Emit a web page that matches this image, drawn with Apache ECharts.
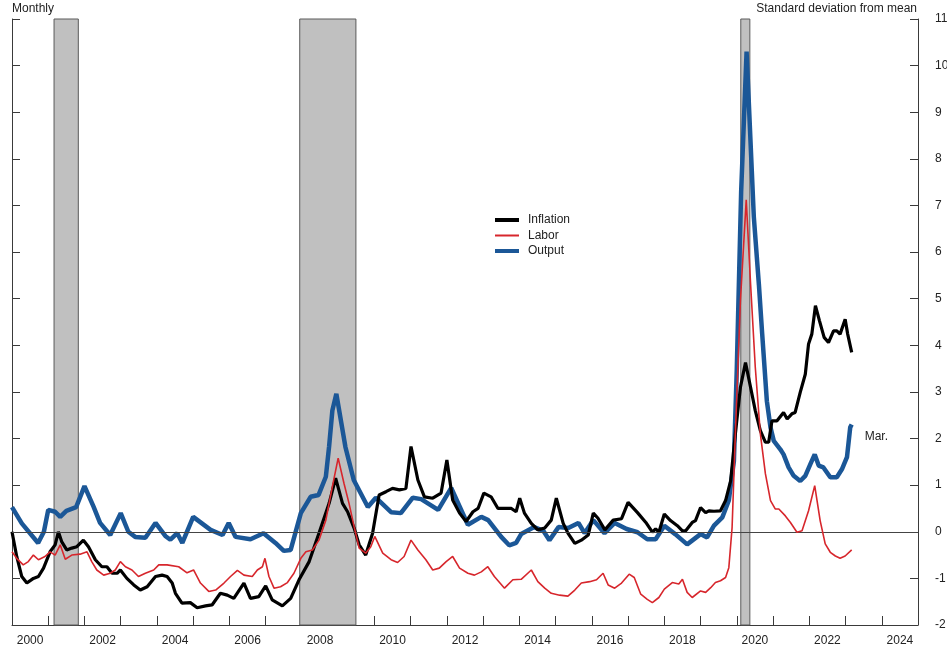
<!DOCTYPE html>
<html>
<head>
<meta charset="utf-8">
<title>Inflation, labor and output: standard deviation from mean</title>
<script src="https://cdn.jsdelivr.net/npm/echarts@6/dist/echarts.min.js"></script>
<style>
  html, body { margin: 0; padding: 0; background: #fff; }
  #chart { width: 947px; height: 652px; }
</style>
</head>
<body>
<div id="chart"></div>
<script>
// points are [decimal year, std dev from mean]; Jan = .00
const inflation = [
  [2000.00, 0.00], [2000.13, -0.53], [2000.27, -0.96], [2000.41, -1.10], [2000.59, -1.00],
  [2000.73, -0.96], [2000.87, -0.78], [2001.05, -0.43], [2001.19, -0.28], [2001.28, 0.00],
  [2001.37, -0.21], [2001.51, -0.39], [2001.65, -0.35], [2001.79, -0.32], [2001.97, -0.18],
  [2002.11, -0.32], [2002.30, -0.60], [2002.48, -0.75], [2002.62, -0.75], [2002.76, -0.89],
  [2002.90, -0.89], [2002.99, -0.82], [2003.17, -1.00], [2003.36, -1.14], [2003.54, -1.25],
  [2003.73, -1.18], [2003.96, -0.96], [2004.14, -0.93], [2004.28, -0.96], [2004.42, -1.10],
  [2004.51, -1.32], [2004.69, -1.53], [2004.92, -1.52], [2005.11, -1.63], [2005.34, -1.59],
  [2005.52, -1.57], [2005.75, -1.32], [2005.94, -1.36], [2006.12, -1.43], [2006.40, -1.10],
  [2006.58, -1.43], [2006.81, -1.39], [2007.00, -1.16], [2007.18, -1.46], [2007.46, -1.59],
  [2007.69, -1.43], [2007.92, -1.03], [2008.20, -0.64], [2008.47, -0.03], [2008.75, 0.61],
  [2008.93, 1.15], [2009.12, 0.61], [2009.26, 0.43], [2009.44, 0.08], [2009.58, -0.28],
  [2009.76, -0.50], [2009.95, -0.03], [2010.13, 0.79], [2010.32, 0.86], [2010.50, 0.93],
  [2010.69, 0.90], [2010.87, 0.93], [2011.01, 1.83], [2011.20, 1.11], [2011.38, 0.75],
  [2011.61, 0.72], [2011.84, 0.83], [2012.00, 1.54], [2012.16, 0.68], [2012.35, 0.40],
  [2012.53, 0.22], [2012.72, 0.43], [2012.86, 0.50], [2013.02, 0.83], [2013.22, 0.75],
  [2013.41, 0.50], [2013.59, 0.50], [2013.78, 0.50], [2013.91, 0.43], [2014.01, 0.72],
  [2014.14, 0.40], [2014.33, 0.18], [2014.51, 0.04], [2014.70, 0.08], [2014.88, 0.25],
  [2015.02, 0.72], [2015.21, 0.18], [2015.34, -0.03], [2015.53, -0.25], [2015.71, -0.18],
  [2015.90, -0.07], [2016.04, 0.40], [2016.17, 0.29], [2016.36, 0.04], [2016.59, 0.25],
  [2016.82, 0.28], [2017.00, 0.63], [2017.26, 0.41], [2017.49, 0.20], [2017.67, -0.01],
  [2017.76, 0.06], [2017.85, -0.01], [2018.00, 0.38], [2018.17, 0.24], [2018.36, 0.13],
  [2018.50, 0.02], [2018.59, 0.02], [2018.77, 0.20], [2018.86, 0.24], [2019.00, 0.52],
  [2019.14, 0.41], [2019.23, 0.45], [2019.37, 0.44], [2019.55, 0.45], [2019.69, 0.67],
  [2019.83, 1.09], [2019.96, 2.10], [2020.10, 3.10], [2020.24, 3.63], [2020.38, 3.10],
  [2020.51, 2.60], [2020.65, 2.17], [2020.79, 1.92], [2020.88, 1.92], [2020.97, 2.38],
  [2021.11, 2.38], [2021.29, 2.56], [2021.39, 2.42], [2021.52, 2.53], [2021.61, 2.56],
  [2021.75, 2.99], [2021.89, 3.38], [2021.98, 4.03], [2022.07, 4.24], [2022.17, 4.85],
  [2022.28, 4.53], [2022.41, 4.17], [2022.53, 4.06], [2022.67, 4.31], [2022.76, 4.31],
  [2022.85, 4.24], [2022.99, 4.56], [2023.06, 4.24], [2023.17, 3.85]
];

const labor = [
  [2000.00, -0.43], [2000.13, -0.57], [2000.31, -0.71], [2000.45, -0.64], [2000.59, -0.50],
  [2000.73, -0.60], [2000.91, -0.53], [2001.05, -0.43], [2001.19, -0.50], [2001.33, -0.28],
  [2001.47, -0.59], [2001.65, -0.50], [2001.88, -0.48], [2002.07, -0.43], [2002.20, -0.64],
  [2002.34, -0.82], [2002.53, -0.93], [2002.71, -0.89], [2002.85, -0.82], [2002.99, -0.64],
  [2003.13, -0.75], [2003.31, -0.82], [2003.49, -0.96], [2003.68, -0.89], [2003.91, -0.82],
  [2004.05, -0.71], [2004.28, -0.71], [2004.60, -0.75], [2004.83, -0.88], [2005.01, -0.82],
  [2005.20, -1.10], [2005.43, -1.28], [2005.62, -1.25], [2005.85, -1.10], [2006.03, -0.96],
  [2006.22, -0.83], [2006.40, -0.93], [2006.63, -0.96], [2006.77, -0.82], [2006.91, -0.75],
  [2006.98, -0.57], [2007.09, -0.96], [2007.23, -1.21], [2007.41, -1.18], [2007.60, -1.09],
  [2007.78, -0.89], [2007.97, -0.57], [2008.11, -0.43], [2008.29, -0.39], [2008.47, -0.18],
  [2008.66, 0.25], [2008.84, 0.97], [2009.00, 1.58], [2009.16, 1.04], [2009.30, 0.61],
  [2009.44, 0.11], [2009.58, -0.35], [2009.76, -0.46], [2009.90, -0.32], [2010.01, -0.10],
  [2010.23, -0.46], [2010.46, -0.60], [2010.64, -0.66], [2010.82, -0.53], [2011.01, -0.18],
  [2011.20, -0.39], [2011.42, -0.60], [2011.61, -0.82], [2011.79, -0.78], [2011.98, -0.64],
  [2012.16, -0.53], [2012.35, -0.78], [2012.58, -0.89], [2012.76, -0.93], [2012.95, -0.86],
  [2013.13, -0.75], [2013.31, -0.96], [2013.59, -1.21], [2013.82, -1.03], [2014.05, -1.02],
  [2014.33, -0.82], [2014.51, -1.07], [2014.70, -1.21], [2014.88, -1.32], [2015.11, -1.36],
  [2015.34, -1.38], [2015.53, -1.25], [2015.71, -1.10], [2015.94, -1.07], [2016.13, -1.03],
  [2016.31, -0.89], [2016.45, -1.14], [2016.63, -1.21], [2016.82, -1.10], [2017.03, -0.91],
  [2017.17, -0.98], [2017.35, -1.34], [2017.53, -1.45], [2017.67, -1.52], [2017.85, -1.41],
  [2018.00, -1.23], [2018.22, -1.09], [2018.40, -1.12], [2018.50, -1.02], [2018.63, -1.30],
  [2018.77, -1.41], [2019.00, -1.27], [2019.14, -1.30], [2019.28, -1.20], [2019.41, -1.09],
  [2019.55, -1.05], [2019.69, -0.98], [2019.78, -0.77], [2019.87, 0.09], [2019.96, 2.10],
  [2020.10, 4.96], [2020.26, 7.12], [2020.38, 5.32], [2020.51, 3.53], [2020.65, 2.10],
  [2020.79, 1.24], [2020.93, 0.67], [2021.06, 0.49], [2021.16, 0.49], [2021.34, 0.34],
  [2021.48, 0.20], [2021.66, -0.01], [2021.80, 0.02], [2021.98, 0.45], [2022.15, 0.99],
  [2022.30, 0.24], [2022.44, -0.26], [2022.58, -0.44], [2022.72, -0.52], [2022.85, -0.57],
  [2022.99, -0.52], [2023.17, -0.39]
];

const output = [
  [2000.00, 0.53], [2000.27, 0.18], [2000.72, -0.24], [2000.88, 0.00], [2001.00, 0.47],
  [2001.19, 0.43], [2001.33, 0.32], [2001.50, 0.45], [2001.77, 0.53], [2002.00, 0.98],
  [2002.25, 0.54], [2002.43, 0.19], [2002.71, -0.07], [2003.00, 0.40], [2003.21, 0.00],
  [2003.40, -0.11], [2003.68, -0.13], [2003.96, 0.19], [2004.23, -0.09], [2004.37, -0.17],
  [2004.56, -0.03], [2004.70, -0.24], [2005.00, 0.32], [2005.48, 0.04], [2005.81, -0.07],
  [2005.98, 0.19], [2006.17, -0.11], [2006.58, -0.16], [2006.94, -0.03], [2007.27, -0.24],
  [2007.50, -0.41], [2007.69, -0.39], [2007.97, 0.40], [2008.24, 0.75], [2008.46, 0.79],
  [2008.66, 1.18], [2008.75, 1.83], [2008.84, 2.60], [2008.95, 2.96], [2009.20, 1.82],
  [2009.43, 1.11], [2009.82, 0.53], [2010.04, 0.73], [2010.46, 0.42], [2010.73, 0.40],
  [2011.06, 0.73], [2011.29, 0.70], [2011.76, 0.47], [2012.12, 0.94], [2012.58, 0.15],
  [2012.95, 0.32], [2013.14, 0.25], [2013.50, -0.11], [2013.72, -0.29], [2013.91, -0.24],
  [2014.05, -0.05], [2014.41, 0.10], [2014.66, 0.02], [2014.83, -0.18], [2015.08, 0.10],
  [2015.35, 0.08], [2015.63, 0.19], [2015.80, -0.03], [2016.04, 0.25], [2016.35, -0.03],
  [2016.63, 0.19], [2016.96, 0.06], [2017.26, -0.01], [2017.53, -0.16], [2017.76, -0.16],
  [2018.00, 0.13], [2018.30, -0.05], [2018.63, -0.27], [2019.00, -0.05], [2019.18, -0.12],
  [2019.37, 0.13], [2019.60, 0.31], [2019.78, 0.67], [2019.92, 1.52], [2020.00, 3.50],
  [2020.12, 7.30], [2020.27, 10.30], [2020.47, 6.75], [2020.61, 5.30], [2020.70, 4.25],
  [2020.83, 2.80], [2020.93, 2.24], [2021.02, 1.95], [2021.20, 1.77], [2021.29, 1.66],
  [2021.43, 1.38], [2021.57, 1.20], [2021.75, 1.09], [2021.89, 1.20], [2022.03, 1.45],
  [2022.15, 1.66], [2022.26, 1.42], [2022.39, 1.38], [2022.58, 1.17], [2022.76, 1.17],
  [2022.90, 1.34], [2023.04, 1.60], [2023.13, 2.24], [2023.17, 2.30]
];

// NBER recessions, decimal years
const recessions = [[2001.16, 2001.83], [2007.94, 2009.49], [2020.11, 2020.36]];

const yearLabels = ['2000', '2002', '2004', '2006', '2008', '2010', '2012',
  '2014', '2016', '2018', '2020', '2022', '2024'];

const FONT = '"Liberation Sans", Arial, sans-serif';
const TEXT = '#222';
const AXIS = '#3a3a3a';

const chart = echarts.init(document.getElementById('chart'), null, { renderer: 'canvas' });

const option = {
  animation: false,
  backgroundColor: '#fff',
  textStyle: { fontFamily: FONT },
  title: [
    { text: 'Monthly', left: 12, top: 3, padding: 0,
      textStyle: { fontSize: 12, fontWeight: 'normal', color: TEXT, fontFamily: FONT } },
    { text: 'Standard deviation from mean', right: 30, top: 3, padding: 0,
      textStyle: { fontSize: 12, fontWeight: 'normal', color: TEXT, fontFamily: FONT } }
  ],
  legend: {
    orient: 'vertical',
    left: 493,
    top: 213,
    padding: 0,
    itemWidth: 24,
    itemHeight: 8,
    itemGap: 1.5,
    itemStyle: { opacity: 0 },
    data: [
      { name: 'Inflation', lineStyle: { width: 4, color: '#000' } },
      { name: 'Labor', lineStyle: { width: 2, color: '#d7262c' } },
      { name: 'Output', lineStyle: { width: 4, color: '#1b5797' } }
    ],
    textStyle: { fontSize: 12, lineHeight: 14, color: TEXT, fontFamily: FONT, padding: [0, 0, 0, 4] }
  },
  grid: { left: 12, right: 29, top: 19, bottom: 27, outerBoundsMode: 'none' },
  xAxis: [
    {
      type: 'value', position: 'bottom', min: 2000, max: 2025, interval: 1,
      axisLine: { show: true, onZero: false, lineStyle: { color: AXIS, width: 1 } },
      axisTick: { show: true, inside: true, length: 9, lineStyle: { color: AXIS } },
      axisLabel: { show: false },
      splitLine: { show: false }
    },
    {
      type: 'value', position: 'bottom', min: 2000, max: 2025, interval: 0.5,
      axisLine: { show: false, onZero: false }, axisTick: { show: false }, splitLine: { show: false },
      axisLabel: {
        show: true, margin: 10, fontSize: 12, color: TEXT, fontFamily: FONT,
        formatter: function (v) {
          const y = String(Math.round(v - 0.5));
          return (Math.abs(v - Math.floor(v) - 0.5) < 1e-6 && yearLabels.indexOf(y) >= 0) ? y : '';
        }
      }
    }
  ],
  yAxis: [
    {
      type: 'value', position: 'right', min: -2, max: 11, interval: 1,
      axisLine: { show: true, onZero: false, lineStyle: { color: AXIS, width: 1 } },
      axisTick: { show: true, inside: true, length: 8, lineStyle: { color: AXIS } },
      axisLabel: { show: true, margin: 17, fontSize: 12, color: TEXT, fontFamily: FONT, align: 'left' },
      splitLine: { show: false }
    },
    {
      type: 'value', position: 'left', min: -2, max: 11, interval: 1,
      axisLine: { show: true, onZero: false, lineStyle: { color: AXIS, width: 1 } },
      axisTick: { show: true, inside: true, length: 8, lineStyle: { color: AXIS } },
      axisLabel: { show: false },
      splitLine: { show: false }
    }
  ],
  series: [
    {
      name: 'shading', type: 'line', data: [], z: 1, silent: true,
      markArea: {
        silent: true,
        itemStyle: { color: '#c0c0c0', borderColor: '#5a5a5a', borderWidth: 1 },
        data: recessions.map(r => [{ xAxis: r[0] }, { xAxis: r[1] }])
      },
      markLine: {
        silent: true, symbol: 'none', label: { show: false },
        lineStyle: { color: '#444', width: 1, type: 'solid' },
        data: [{ yAxis: 0 }]
      }
    },
    {
      name: 'Output', type: 'line', data: output, z: 3,
      showSymbol: false, symbol: 'none', smooth: false,
      lineStyle: { color: '#1b5797', width: 4.5 },
      itemStyle: { color: '#1b5797' },
      endLabel: {
        show: true, formatter: 'Mar.', color: TEXT, fontSize: 12, fontFamily: FONT,
        distance: 13, offset: [0, 12]
      }
    },
    {
      name: 'Inflation', type: 'line', data: inflation, z: 4,
      showSymbol: false, symbol: 'none',
      lineStyle: { color: '#000', width: 3.2 },
      itemStyle: { color: '#000' }
    },
    {
      name: 'Labor', type: 'line', data: labor, z: 5,
      showSymbol: false, symbol: 'none',
      lineStyle: { color: '#d7262c', width: 1.6 },
      itemStyle: { color: '#d7262c' }
    }
  ]
};

chart.setOption(option);
</script>
</body>
</html>
